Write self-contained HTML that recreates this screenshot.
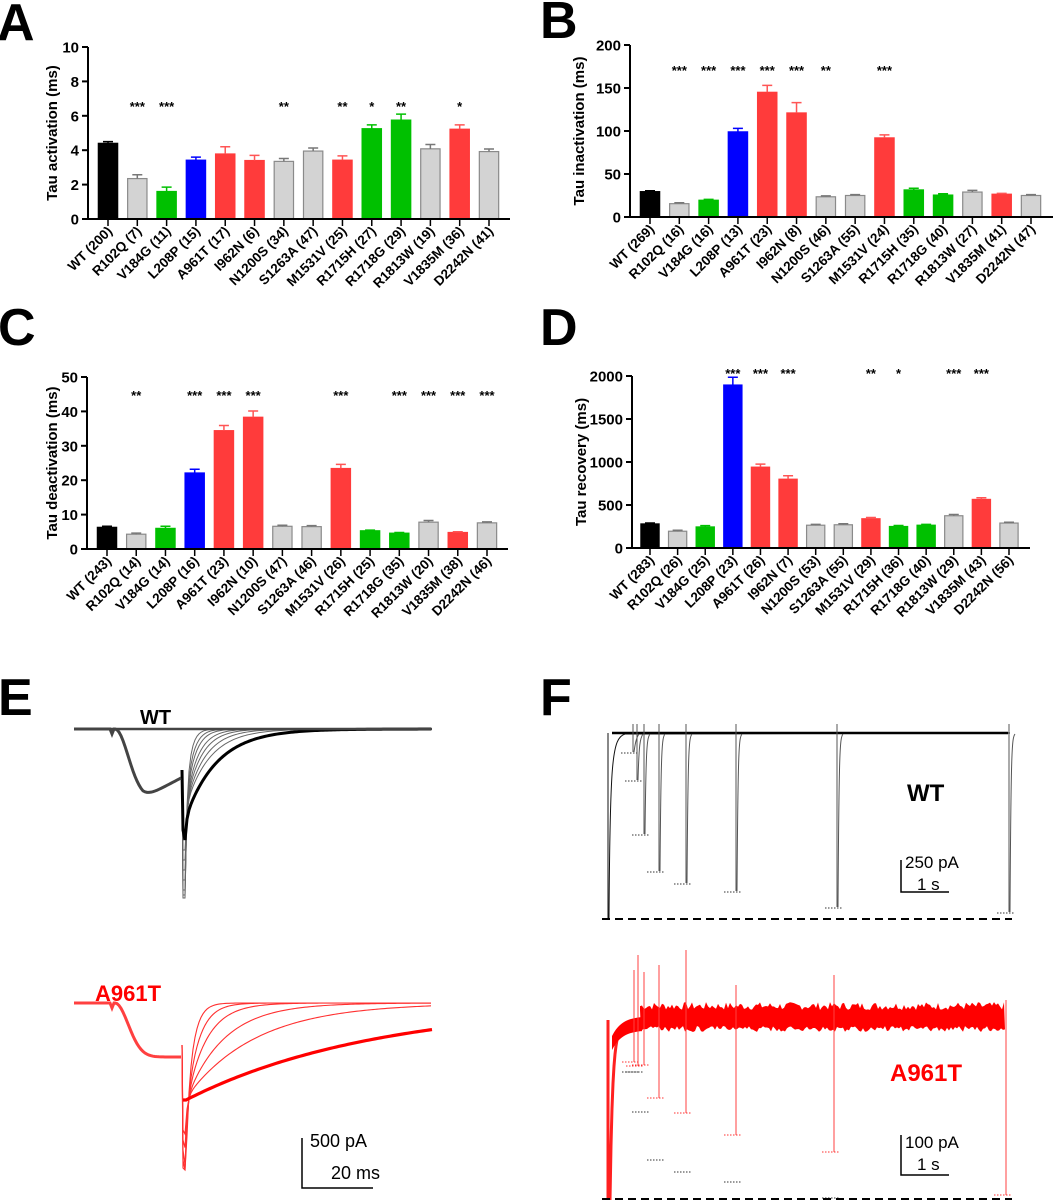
<!DOCTYPE html>
<html><head><meta charset="utf-8">
<style>
html,body{margin:0;padding:0;background:#fff;}
svg{display:block;font-family:"Liberation Sans",sans-serif;}
</style></head>
<body>
<svg id="fig" width="1059" height="1202" viewBox="0 0 1059 1202" xmlns="http://www.w3.org/2000/svg"></svg>
<script>
const NS="http://www.w3.org/2000/svg";
const svg=document.getElementById('fig');

// ---- data ----
const categoriesA=["WT (200)","R102Q (7)","V184G (11)","L208P (15)","A961T (17)","I962N (6)","N1200S (34)","S1263A (47)","M1531V (25)","R1715H (27)","R1718G (29)","R1813W (19)","V1835M (36)","D2242N (41)"];
const valuesA=[4.4,2.35,1.6,3.42,3.78,3.4,3.35,3.95,3.42,5.25,5.75,4.08,5.22,3.92];
const errorsA=[0.1,0.22,0.25,0.18,0.42,0.3,0.17,0.18,0.25,0.22,0.35,0.25,0.25,0.15];
const starsA=["","***","***","","","","**","","**","*","**","","*",""];
const ticksA=[0,2,4,6,8,10];

const categoriesB=["WT (269)","R102Q (16)","V184G (16)","L208P (13)","A961T (23)","I962N (8)","N1200S (46)","S1263A (55)","M1531V (24)","R1715H (35)","R1718G (40)","R1813W (27)","V1835M (41)","D2242N (47)"];
const valuesB=[29.5,15.5,19.5,99,145,121,23.5,25,92,31.5,25.5,29,26.5,25];
const errorsB=[1,1,1,4,8,12,1,1,3.5,2,1.5,2,1,1];
const starsB=["","***","***","***","***","***","**","","***","","","","",""];
const ticksB=[0,50,100,150,200];

const categoriesC=["WT (243)","R102Q (14)","V184G (14)","L208P (16)","A961T (23)","I962N (10)","N1200S (47)","S1263A (46)","M1531V (26)","R1715H (25)","R1718G (35)","R1813W (20)","V1835M (38)","D2242N (46)"];
const valuesC=[6.3,4.3,6,22.1,34.4,38.3,6.6,6.5,23.4,5.3,4.6,7.8,4.8,7.6];
const errorsC=[0.3,0.3,0.6,1.1,1.5,1.8,0.3,0.3,1.2,0.2,0.2,0.5,0.2,0.3];
const starsC=["","**","","***","***","***","","","***","","***","***","***","***"];
const ticksC=[0,10,20,30,40,50];

const categoriesD=["WT (283)","R102Q (26)","V184G (25)","L208P (23)","A961T (26)","I962N (7)","N1200S (53)","S1263A (55)","M1531V (29)","R1715H (36)","R1718G (40)","R1813W (29)","V1835M (43)","D2242N (56)"];
const valuesD=[280,195,245,1895,940,800,265,270,340,250,265,375,565,290];
const errorsD=[10,12,15,90,35,40,10,12,15,12,10,15,20,10];
const starsD=["","","","***","***","***","","","**","*","","***","***",""];
const ticksD=[0,500,1000,1500,2000];

const groups=["wt","gray","green","blue","red","red","gray","gray","red","green","green","gray","red","gray"];
const fillOf={wt:"#000",gray:"#d3d3d3",green:"#00c000",blue:"#0000ff",red:"#ff3b3b"};
const strokeOf={wt:"#000",gray:"#8a8a8a",green:"#00c000",blue:"#0000ff",red:"#ff3b3b"};
const errOf={wt:"#000",gray:"#777",green:"#00c000",blue:"#0000ff",red:"#ff5555"};

function el(tag,attrs,parent){const e=document.createElementNS(NS,tag);for(const k in attrs)e.setAttribute(k,attrs[k]);(parent||svg).appendChild(e);return e;}

function barChart(cfg){
  const g=el('g',{});
  
  
  const {ax,top,zero,x0,x1,axEnd,ymax}=cfg;
  const n=cfg.cats.length;
  const xs=i=>x0+i*(x1-x0)/(n-1);
  const ys=v=>zero-(v/ymax)*(zero-top);
  const bw=(x1-x0)/(n-1)*0.66;
  cfg.vals.forEach((v,i)=>{
    const gr=groups[i];
    const b=el('rect',{x:xs(i)-bw/2,y:ys(v),width:bw,height:zero-ys(v),fill:fillOf[gr],stroke:strokeOf[gr],'stroke-width':1.2},g);
    
    
    const ye=ys(v+cfg.errs[i]);
    const eb=el('path',{d:`M${xs(i)},${ys(v)}V${ye}M${xs(i)-5},${ye}H${xs(i)+5}`,stroke:errOf[gr],'stroke-width':1.5,fill:'none'},g);
    
    
    if(cfg.stars[i]){
      const s=el('text',{x:xs(i),y:cfg.starY,'font-size':13,'font-weight':'bold','text-anchor':'middle'},g);
      s.textContent=cfg.stars[i];
      
      
    }
    el('line',{x1:xs(i),x2:xs(i),y1:zero,y2:zero+7,stroke:'#000','stroke-width':1.5},g);
    const t=el('text',{x:0,y:0,'font-size':13.5,'font-weight':'bold','text-anchor':'end',transform:`translate(${xs(i)+5},${zero+13}) rotate(-45)`},g);
    t.textContent=cfg.cats[i];
    
    
  });
  el('line',{x1:ax,x2:ax,y1:top,y2:zero,stroke:'#000','stroke-width':2},g);
  el('line',{x1:ax,x2:axEnd,y1:zero,y2:zero,stroke:'#000','stroke-width':2},g);
  cfg.ticks.forEach(tv=>{
    el('line',{x1:ax-6,x2:ax,y1:ys(tv),y2:ys(tv),stroke:'#000','stroke-width':2},g);
    const t=el('text',{x:ax-9,y:ys(tv)+5.5,'font-size':15,'font-weight':'bold','text-anchor':'end'},g);
    t.textContent=tv;
    
    
  });
  const yt=el('text',{x:0,y:0,'font-size':15,'font-weight':'bold','text-anchor':'middle',transform:`translate(${cfg.titleX},${(top+zero)/2}) rotate(-90)`},g);
  yt.textContent=cfg.title;
  
  
  const L=el('text',{x:cfg.lx,y:cfg.ly,'font-size':52,'font-weight':'bold'},g);
  L.textContent=cfg.letter;
  
  
}

barChart({name:'chart-tau-activation',cats:categoriesA,vals:valuesA,errs:errorsA,stars:starsA,ticks:ticksA,ymax:10,ax:88,top:47,zero:219,x0:108,x1:489,axEnd:510,starY:111,title:'Tau activation (ms)',titleX:57,letter:'A',lx:-3,ly:40});
barChart({name:'chart-tau-inactivation',cats:categoriesB,vals:valuesB,errs:errorsB,stars:starsB,ticks:ticksB,ymax:200,ax:630,top:45,zero:217,x0:650,x1:1031,axEnd:1053,starY:75,title:'Tau inactivation (ms)',titleX:584,letter:'B',lx:540,ly:38});
barChart({name:'chart-tau-deactivation',cats:categoriesC,vals:valuesC,errs:errorsC,stars:starsC,ticks:ticksC,ymax:50,ax:87,top:377,zero:549,x0:107,x1:487,axEnd:508,starY:400,title:'Tau deactivation (ms)',titleX:57,letter:'C',lx:-2,ly:345});
barChart({name:'chart-tau-recovery',cats:categoriesD,vals:valuesD,errs:errorsD,stars:starsD,ticks:ticksD,ymax:2000,ax:632,top:376,zero:548,x0:650,x1:1009,axEnd:1030,starY:378,title:'Tau recovery (ms)',titleX:586,letter:'D',lx:540,ly:345});

function txt(x,y,s,size,fill,name,extra){const t=el('text',Object.assign({x:x,y:y,'font-size':size,fill:fill},extra||{}));t.textContent=s;return t;}
txt(-2,715,'E',52,'#000','panel-label-e',{'font-weight':'bold'});
txt(540,715,'F',52,'#000','panel-label-f',{'font-weight':'bold'});

// ---- Panel E traces (illustrative) ----
function prePath(base,dip,end,x0){let d=`M74,${base}L110,${base}L112,${base+5}L114,${base}`;for(let x=115;x<=181;x+=2){const u=(x-115)/22;let y=base+(dip-base)*(1-Math.exp(-u*u*1.4));if(end!==null&&x>143)y-= (dip-end)*(x-143)/38;d+=`L${x},${y}`;}return d;}
(function(){
  const g=el('g',{});
  
  
  const base=729,taus=[5,7,9,12,15,19,24,32],peaks=[898,895,890,880,870,860,850,830];
  taus.forEach((tau,k)=>{
    let d=`M182,770L183,${peaks[k]}`;
    const last=k===taus.length-1;
    for(let x=185;x<=432;x+=2){const y=base+(last?90:80)*Math.exp(-(x-185)/tau)+(peaks[k]-base-80)*Math.exp(-(x-185)/1.5);d+=`L${x},${y}`;}
    el('path',{d:d,fill:'none',stroke:last?'#000':'#666','stroke-width':last?3:1},g);
  });
  el('path',{d:prePath(729,798,778),fill:'none',stroke:'#444','stroke-width':3},g);
  el('line',{x1:74,x2:432,y1:729,y2:729,stroke:'#444','stroke-width':2.5},g);
})();
(function(){
  const g=el('g',{});
  
  
  const base=1003,taus=[7,12,20,38,70],peaks=[1168,1160,1150,1140,1130];
  taus.forEach((tau,k)=>{
    let d=`M182,1045L183,${peaks[k]}`;
    for(let x=185;x<=432;x+=2){const y=base+92*Math.exp(-(x-188)/tau)+(peaks[k]-1095)*Math.exp(-(x-185)/2);d+=`L${x},${Math.min(y,1170)}`;}
    el('path',{d:d,fill:'none',stroke:'#ff3030','stroke-width':1.1},g);
  });
  let d='M183,1100';
  for(let x=186;x<=432;x+=3){d+=`L${x},${1003+97*Math.exp(-(x-186)/190)}`;}
  el('path',{d:d,fill:'none',stroke:'#ff0000','stroke-width':3.2},g);
  el('path',{d:prePath(1003,1057,null),fill:'none',stroke:'#ff4040','stroke-width':3},g);
})();
txt(140,724,'WT',20,'#000','wt-label-e',{'font-weight':'bold'});
txt(95,1001,'A961T',22,'#ff0000','a961t-label-e',{'font-weight':'bold'});
el('path',{d:'M302,1138V1188H373',fill:'none',stroke:'#000','stroke-width':1.5});
txt(310,1147,'500 pA',18,'#000','scale-label-pa-e');
txt(331,1179,'20 ms',18,'#000','scale-label-ms-e');

// ---- Panel F traces (illustrative) ----
(function(){
  const g=el('g',{});
  
  
  el('path',{d:'M608,733V918M609,918C610,760 612,738 625,734L1010,733',fill:'none',stroke:'#111','stroke-width':1},g);
  el('line',{x1:612,x2:1008,y1:733,y2:733,stroke:'#000','stroke-width':2.5},g);
  const sx=[633,637,644,659,686,736,837,1009];
  const sy=[752,780,834,871,883,891,907,912];
  sx.forEach((x,i)=>{
    el('path',{d:`M${x},724V${sy[i]}M${x+1},${sy[i]}C${x+2},745 ${x+3},738 ${x+6},734`,fill:'none',stroke:'#555','stroke-width':1},g);
    el('line',{x1:x-12,x2:x+6,y1:sy[i]+1,y2:sy[i]+1,stroke:'#333','stroke-width':1,'stroke-dasharray':'1.5,1.5'},g);
  });
  el('line',{x1:602,x2:1012,y1:919,y2:919,stroke:'#000','stroke-width':2,'stroke-dasharray':'8,5'},g);
})();
txt(907,801,'WT',24,'#000','wt-label-f',{'font-weight':'bold'});
el('path',{d:'M901,860V892H949',fill:'none',stroke:'#000','stroke-width':1.5});
txt(905,868,'250 pA',17,'#000','scale-label-pa-wt');
txt(917,890,'1 s',17,'#000','scale-label-s-wt');

(function(){
  const g=el('g',{});
  
  
  let seed=7;const rnd=()=>{seed=(seed*9301+49297)%233280;return seed/233280;};
  let d='M608,1020V1198M610,1197';
  for(let x=610;x<=640;x+=1){const y=1018+22*Math.exp(-(x-610)/12)+160*Math.exp(-(x-610)/2.5);d+=`L${x},${y}`;}
  el('path',{d:d,fill:'none',stroke:'#ff2020','stroke-width':3},g);
  let top='M640,1010';
  for(let x=640;x<=1005;x+=2){top+=`L${x},${1010-rnd()*8}`;}
  for(let x=1005;x>=640;x-=2){top+=`L${x},${1026+rnd()*6}`;}
  el('path',{d:top+'Z',fill:'#ff0000',stroke:'none'},g);
  let ramp='M612,1040';
  for(let x=612;x<=642;x+=2){ramp+=`L${x},${1020+20*Math.exp(-(x-612)/10)-4}`;}
  for(let x=642;x>=612;x-=2){ramp+=`L${x},${1030+20*Math.exp(-(x-612)/10)}`;}
  el('path',{d:ramp+'Z',fill:'#ff0000'},g);
  const sx=[634,638,644,659,686,736,834,1006];
  const up=[970,955,972,965,950,985,975,1000];
  const sy=[1062,1066,1065,1098,1113,1135,1152,1195];
  const blk=[1062,1062,1102,1150,1162,1172,1188,1198];
  sx.forEach((x,i)=>{
    el('path',{d:`M${x},${up[i]}V${sy[i]}`,fill:'none',stroke:'#ff4040','stroke-width':1},g);
    el('line',{x1:x-12,x2:x+6,y1:sy[i],y2:sy[i],stroke:'#ff3030','stroke-width':1,'stroke-dasharray':'1.5,1.5'},g);
    el('line',{x1:x-12,x2:x+6,y1:blk[i]+10,y2:blk[i]+10,stroke:'#333','stroke-width':1,'stroke-dasharray':'1.5,1.5'},g);
  });
  el('line',{x1:602,x2:1012,y1:1199,y2:1199,stroke:'#000','stroke-width':2,'stroke-dasharray':'8,5'},g);
})();
txt(890,1081,'A961T',24,'#ff0000','a961t-label-f',{'font-weight':'bold'});
el('path',{d:'M901,1135V1175H949',fill:'none',stroke:'#000','stroke-width':1.5});
txt(905,1148,'100 pA',17,'#000','scale-label-pa-a961t');
txt(917,1170,'1 s',17,'#000','scale-label-s-a961t');
</script>
</body></html>
